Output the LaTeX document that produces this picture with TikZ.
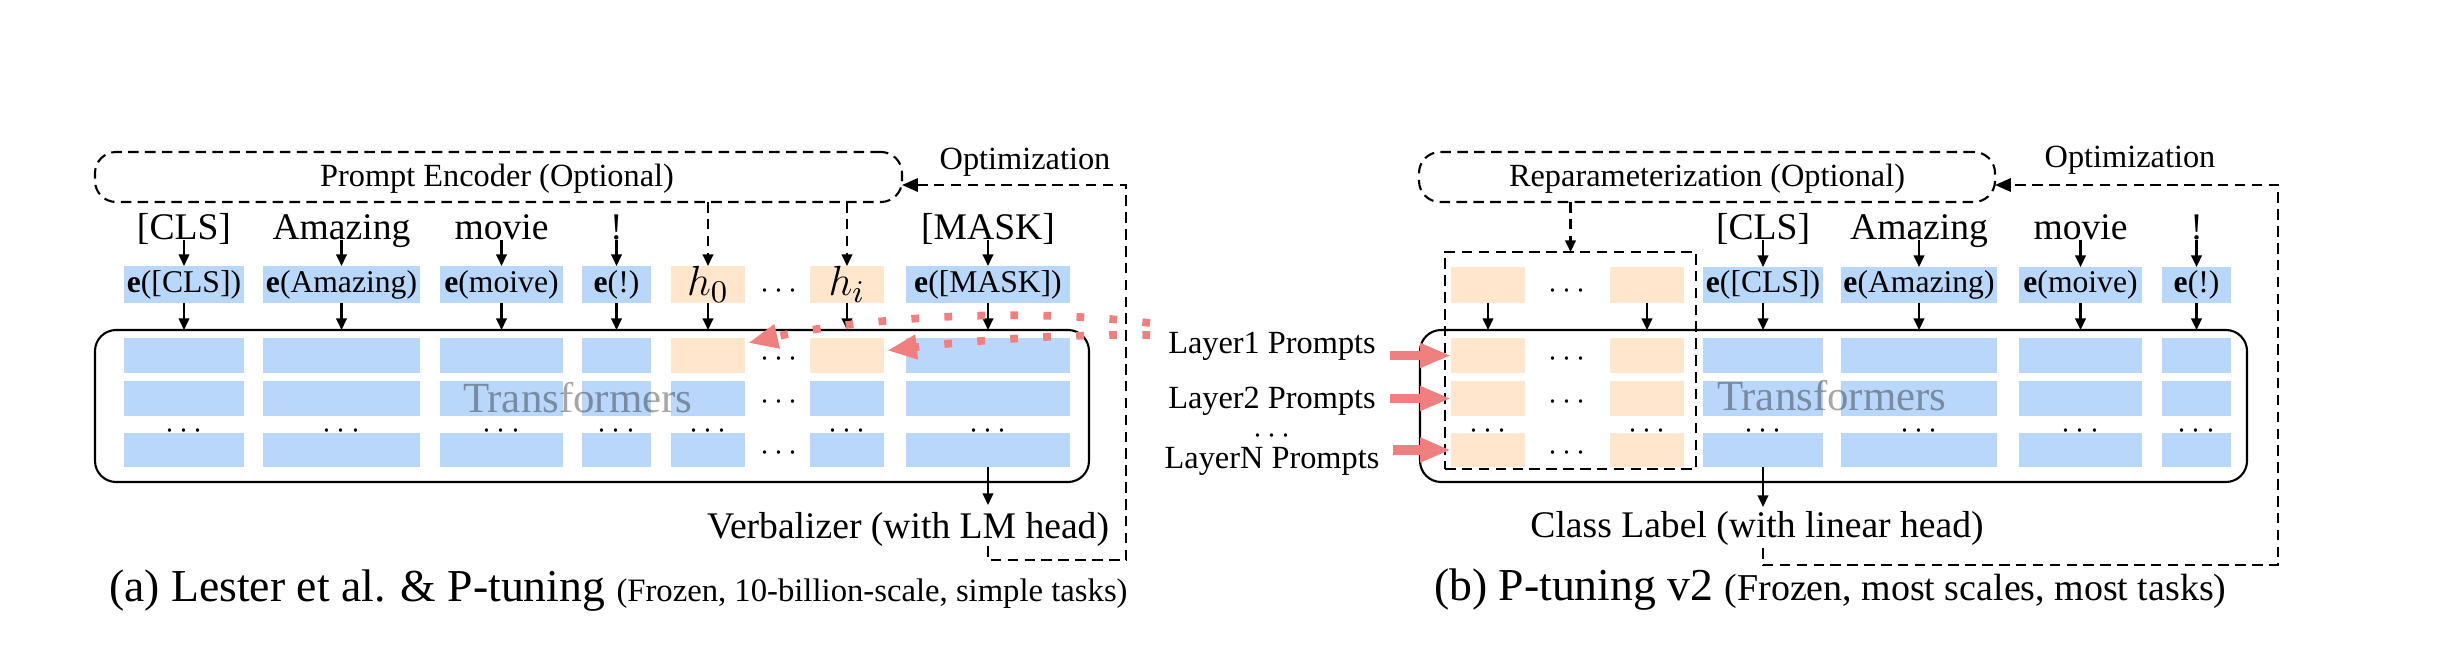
\documentclass[tikz,border=0pt]{standalone}
\usepackage{fontspec}
\setmainfont{Liberation Serif}
\usetikzlibrary{arrows.meta,calc}
\definecolor{eblue}{RGB}{185,215,250}
\definecolor{porange}{RGB}{255,230,204}
\definecolor{salmon}{RGB}{240,128,128}
\newcommand\fsz[1]{\fontsize{#1}{#1}\selectfont}
\newcommand\bx[6]{\node[#6, minimum width={(#4-#2)*0.1mm}, minimum height={(#5-#3)*0.1mm}] (#1) at ({(#2+#4)/2},{(#3+#5)/2})}
\tikzset{
  every node/.style={inner sep=0pt, outer sep=0pt},
  blk/.style={fill=eblue},
  prm/.style={fill=porange},
  tbox/.style={draw, line width=0.6pt, rounded corners=6pt},
  dsh/.style={dash pattern=on 3pt off 1.8pt},
  dbox/.style={draw, line width=0.6pt, dsh},
  rdbox/.style={dbox, rounded corners=6pt},
  arr/.style={line width=0.6pt, -{Triangle[length=3.3pt,width=3pt]}},
  darr/.style={arr, dsh},
  optarr/.style={line width=0.6pt, dsh, -{Triangle[length=4.5pt,width=3.8pt]}},
  reddot/.style={draw=salmon, line width=2.2pt, dash pattern=on 2.2pt off 7.2pt, -{Triangle[length=8.5pt,width=6.5pt]}},
  redarr/.style={draw=salmon, line width=2.7pt, -{Triangle[length=8.8pt,width=6.5pt]}},
  tok/.style={font=\fsz{10.7}},
  etxt/.style={font=\fsz{9}},
  hx/.style={font=\fsz{12.5}},
  lbl/.style={font=\fsz{9.2}},
  tfm/.style={font=\fsz{12.2}, text=black, text opacity=0.35},
  dts/.style={font=\fsz{9.3}},
}
\begin{document}
\begin{tikzpicture}[x=0.1mm, y=-0.1mm]
\useasboundingbox (0,0) rectangle (2437,649);

% ================= (a) =================
\bx{aPE}{95}{152}{902}{202}{rdbox}{};
\node[lbl, anchor=base] (aPEt) at (497,187) {Prompt Encoder (Optional)};

\node[tok, anchor=base] (aW1) at (184,240) {[CLS]};
\node[tok, anchor=base] (aW2) at (341.5,240) {Amazing};
\node[tok, anchor=base] (aW3) at (501.5,240) {movie};
\node[tok, anchor=base] (aW4) at (616.5,240) {!};
\node[tok, anchor=base] (aW7) at (988,240) {[MASK]};

\bx{aE1}{124}{266}{244}{303}{blk,etxt}{\textbf{e}([CLS])};
\bx{aE2}{263}{266}{420}{303}{blk,etxt}{\textbf{e}(Amazing)};
\bx{aE3}{440}{266}{563}{303}{blk,etxt}{\textbf{e}(moive)};
\bx{aE4}{582}{266}{651}{303}{blk,etxt}{\textbf{e}(!)};
\bx{aE5}{671}{266}{745}{303}{prm,hx}{$h_0$};
\bx{aE6}{810}{266}{884}{303}{prm,hx}{$h_i$};
\bx{aE7}{906}{266}{1070}{303}{blk,etxt}{\textbf{e}([MASK])};
\node[dts] (aEd) at (779,291) {$\cdots$};

\bx{aT}{95}{330}{1089}{482}{tbox}{};
\foreach \n/\xa/\xb/\s in {1/124/244/blk,2/263/420/blk,3/440/563/blk,4/582/651/blk,5/671/745/prm,6/810/884/prm,7/906/1070/blk}{
  \bx{aR\n-1}{\xa}{338}{\xb}{373}{\s}{};
  \bx{aR\n-2}{\xa}{381}{\xb}{416}{blk}{};
  \bx{aR\n-3}{\xa}{433}{\xb}{467}{blk}{};
  \node[dts] (aD\n) at ({(\xa+\xb)/2},431) {$\cdots$};
}
\node[dts] (aG1) at (779,359) {$\cdots$};
\node[dts] (aG2) at (779,402) {$\cdots$};
\node[dts] (aG3) at (779,453) {$\cdots$};
\node[tfm, anchor=base west] (aTf) at (463,412) {Transformers};

\foreach \n in {1,2,3,4,7}{\draw[arr] (aW\n.base -| aE\n.north) -- (aE\n.north);}
\foreach \n in {1,...,7}{\draw[arr] (aE\n.south) -- (aE\n.south |- aT.north);}
\draw[darr] (aPE.south -| aE5.north) -- (aE5.north);
\draw[darr] (aPE.south -| aE6.north) -- (aE6.north);

\node[tok, anchor=base] (aV) at (908,538) {Verbalizer (with LM head)};
\coordinate (aVt) at (988,505);
\draw[arr] (aR7-3.south) -- (aVt);

\node[lbl, anchor=base] (aOpt) at (1025,170) {Optimization};
\coordinate (aO1) at (988,546);
\coordinate (aO2) at (1126,560);
\draw[optarr] (aO1) |- (aO2) |- ($(aPE.east)+(0,8)$);

\node[anchor=base west] (capA) at (109,601) {\fsz{13}(a) Lester et al. \& P-tuning {\fsz{9.3}(Frozen, 10-billion-scale, simple tasks)}};

% ================= (b) =================
\bx{bRP}{1419}{152}{1995}{202}{rdbox}{};
\node[lbl, anchor=base] (bRPt) at (1707,187) {Reparameterization (Optional)};

\node[tok, anchor=base] (bW3) at (1763,240) {[CLS]};
\node[tok, anchor=base] (bW4) at (1919,240) {Amazing};
\node[tok, anchor=base] (bW5) at (2080.5,240) {movie};
\node[tok, anchor=base] (bW6) at (2196.5,240) {!};

\bx{bE1}{1451}{267}{1525}{303}{prm}{};
\bx{bE2}{1610}{267}{1684}{303}{prm}{};
\node[dts] (bEd) at (1567,291) {$\cdots$};
\bx{bE3}{1703}{267}{1823}{303}{blk,etxt}{\textbf{e}([CLS])};
\bx{bE4}{1841}{267}{1997}{303}{blk,etxt}{\textbf{e}(Amazing)};
\bx{bE5}{2019}{267}{2142}{303}{blk,etxt}{\textbf{e}(moive)};
\bx{bE6}{2162}{267}{2231}{303}{blk,etxt}{\textbf{e}(!)};

\bx{bT}{1420}{330}{2247}{482}{tbox}{};
\foreach \n/\xa/\xb/\s in {1/1451/1525/prm,2/1610/1684/prm,3/1703/1823/blk,4/1841/1997/blk,5/2019/2142/blk,6/2162/2231/blk}{
  \bx{bR\n-1}{\xa}{338}{\xb}{373}{\s}{};
  \bx{bR\n-2}{\xa}{381}{\xb}{416}{\s}{};
  \bx{bR\n-3}{\xa}{433}{\xb}{467}{\s}{};
  \node[dts] (bD\n) at ({(\xa+\xb)/2},431) {$\cdots$};
}
\node[dts] (bG1) at (1567,359) {$\cdots$};
\node[dts] (bG2) at (1567,402) {$\cdots$};
\node[dts] (bG3) at (1567,453) {$\cdots$};
\bx{bPB}{1445}{252}{1696}{469}{dbox}{};
\node[tfm, anchor=base west] (bTf) at (1717,410) {Transformers};

\draw[darr] (bRP.south -| bPB.north) -- (bPB.north);
\foreach \n in {3,4,5,6}{\draw[arr] (bW\n.base -| bE\n.north) -- (bE\n.north);}
\foreach \n in {1,...,6}{\draw[arr] (bE\n.south) -- (bE\n.south |- bT.north);}

\node[tok, anchor=base] (bCL) at (1757,537) {Class Label (with linear head)};
\coordinate (bCt) at (1763,507);
\draw[arr] (bR3-3.south) -- (bCt);

\node[lbl, anchor=base] (bOpt) at (2130,168) {Optimization};
\coordinate (bO1) at (1763,548);
\coordinate (bO2) at (2278,565);
\draw[optarr] (bO1) |- (bO2) |- ($(bRP.east)+(0,8)$);

\node[lbl, anchor=base] (L1) at (1272,353) {Layer1 Prompts};
\node[lbl, anchor=base] (L2) at (1272,408) {Layer2 Prompts};
\node[dts] (Ld) at (1272,436) {$\cdots$};
\node[lbl, anchor=base] (LN) at (1272,468) {LayerN Prompts};
\draw[redarr, shorten <=4pt] (L1.east |- bR1-1.west) -- (bR1-1.west);
\draw[redarr, shorten <=4pt] (L2.east |- bR1-2.west) -- (bR1-2.west);
\draw[redarr, shorten <=4pt] (LN.east |- bR1-3.west) -- (bR1-3.west);

\node[anchor=base west] (capB) at (1434,600) {\fsz{13}(b) P-tuning v2 {\fsz{10.8}(Frozen, most scales, most tasks)}};

% red dotted links
\coordinate (rs1) at (1150,323);
\coordinate (rs2) at (1150,335);
\draw[reddot] (rs1) .. controls (1000,305) and (840,322) .. ($(aR5-1.north east)+(3,5)$);
\draw[reddot] (rs2) .. controls (1050,334) and (960,342) .. ($(aR6-1.east)+(3,-5)$);
\end{tikzpicture}
\end{document}
